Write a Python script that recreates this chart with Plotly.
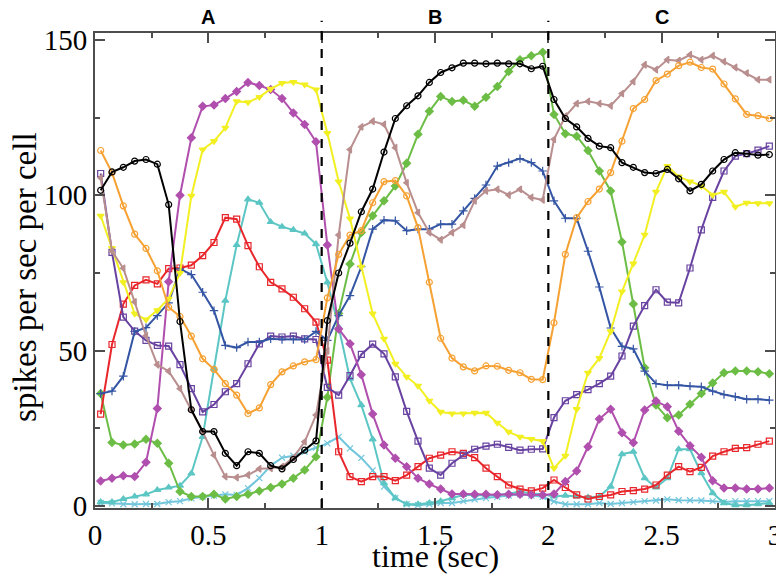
import plotly.graph_objects as go

# time bins (sec), 50 ms bins
time = [0.025, 0.075, 0.125, 0.175, 0.225, 0.275, 0.325, 0.375, 0.425, 0.475,
        0.525, 0.575, 0.625, 0.675, 0.725, 0.775, 0.825, 0.875, 0.925, 0.975,
        1.025, 1.075, 1.125, 1.175, 1.225, 1.275, 1.325, 1.375, 1.425, 1.475,
        1.525, 1.575, 1.625, 1.675, 1.725, 1.775, 1.825, 1.875, 1.925, 1.975,
        2.025, 2.075, 2.125, 2.175, 2.225, 2.275, 2.325, 2.375, 2.425, 2.475,
        2.525, 2.575, 2.625, 2.675, 2.725, 2.775, 2.825, 2.875, 2.925, 2.975]

black = [101.6, 107.5, 109, 111, 111.5, 110, 97, 59.4, 31, 24, 24, 17, 13, 17.5, 17, 13, 12, 15, 18, 21,
         59.7, 75, 84.6, 94.7, 102, 113.9, 124.7, 128.8, 132, 136.3, 139.5, 141, 142.5, 142.5, 142.3, 142.5, 142.3, 142.3, 140.7, 141.5,
         130.8, 124.7, 122, 118.3, 115.8, 115.3, 110.5, 109, 107.3, 107, 108.3, 105.3, 101.4, 103.5, 107.8, 111.5, 113.7, 113.4, 112.9, 113.1]
orange = [114.4, 107.3, 96.6, 87.5, 82.9, 75.7, 64, 61, 54.7, 47.4, 44, 39.4, 35.7, 29.8, 31.6, 39.1, 43.2, 45.1, 46.4, 47.1,
          67, 81, 87.2, 88.6, 97.6, 104.4, 104.7, 99.8, 89.6, 72, 54, 47.6, 44.8, 43.5, 45.1, 45, 43.7, 42.9, 40.8, 40.7,
          59, 81, 92.8, 98, 102, 107.3, 117.4, 127.9, 130.8, 136.9, 139, 141.7, 142.8, 141.1, 140.6, 135.8, 131, 126, 125.6, 124.7]
red = [29.6, 52, 65, 71, 72.8, 71.5, 76.4, 76.6, 77.5, 80.6, 84.8, 92.8, 92.3, 83.8, 77, 72, 69.9, 67.2, 63.5, 59.2,
       47, 17.5, 9.5, 7.9, 9.5, 9.5, 8.2, 10, 12.7, 15.4, 16.4, 17.5, 17, 15.6, 12.2, 9.5, 6.8, 5.5, 4.9, 5.8,
       8.4, 6, 3.6, 2.3, 3.1, 3.6, 4.7, 5, 5.5, 6.8, 10, 12.7, 11.1, 12.5, 16.1, 17.5, 18.6, 18.8, 19.9, 20.9]
brown = [105.6, 82, 76.5, 65.7, 54.8, 45.5, 43.4, 37.8, 30.9, 23.9, 16.4, 9.5, 9.2, 10, 12, 12.2, 12.7, 15.6, 20.7, 29.3,
         50, 87.2, 114.7, 122, 123.8, 122.8, 115.3, 104, 94.4, 88, 85.7, 88, 90.4, 98.2, 101.4, 101.9, 100.1, 101.9, 99.3, 98.5,
         118, 125.4, 129.5, 130.2, 129.5, 128.8, 132.7, 136.6, 142, 140.4, 143.6, 143.3, 145.2, 143.6, 144.9, 143, 141.1, 139.3, 137.2, 137.2]
yellow = [93.4, 83, 72, 61.9, 60, 63, 66.7, 75, 99.8, 114.7, 117.4, 121.7, 130.2, 129.9, 131.6, 134.2, 136.1, 136.4, 135.6, 134,
          120, 104.4, 92.5, 77, 61.9, 53.8, 45.8, 41.6, 38.7, 33.9, 30.3, 29.8, 29.8, 30, 30, 26.8, 23.9, 22.3, 21.6, 20.9,
          12.2, 16.2, 31.2, 42.9, 47.6, 56.2, 69, 78, 87.3, 101.1, 109.4, 106, 104.4, 103, 100.1, 101.1, 96.3, 97.6, 97.4, 97.4]
magenta = [8.1, 9, 9.8, 9.5, 14.1, 31.4, 72.2, 100, 118.5, 128.6, 129, 131.1, 133.4, 136.3, 135.3, 134, 131.1, 126.5, 122.8, 117.2,
           84, 57, 52.2, 42.3, 29.6, 19.7, 15.4, 12.7, 9, 7.1, 5.5, 3.9, 3.9, 3.8, 3.8, 3.7, 3.8, 3.8, 3.7, 3.6,
           3.9, 7.9, 11.3, 19.1, 28, 31.2, 23.6, 20.4, 30.9, 33.8, 32, 24.1, 19.4, 15.7, 8.2, 5.8, 5.8, 5.5, 5.5, 5.8]
blue = [36.2, 37, 41.8, 56.2, 57.4, 61.3, 65.4, 76.3, 74.5, 68.8, 62.9, 51.7, 51, 52.8, 52.8, 53.8, 53.6, 53.6, 53.6, 56.2,
        53.3, 61.3, 67.7, 77, 89.1, 92, 91.8, 88.6, 89.1, 89.1, 90.7, 90.7, 95, 99, 103.3, 109.4, 110.5, 111.8, 110.5, 107.8,
        98.2, 92.6, 92.6, 82, 70.5, 57.3, 51.4, 50.6, 43.4, 39.4, 38.9, 38.9, 38.6, 38.4, 37, 35.9, 35.2, 34.4, 34.4, 34.1]
violet = [107, 81.6, 60.8, 56.3, 53.3, 51.7, 51.5, 45.5, 37.8, 30.3, 32.7, 36.8, 39.4, 45.8, 52.2, 54.7, 54.4, 54.7, 53.8, 53.6,
          38.2, 35.7, 42, 48.8, 52.1, 49, 41.6, 30.5, 20.9, 12.2, 10, 13.8, 16.4, 18.3, 19.3, 19.9, 18.9, 18, 18.3, 18.4,
          28.5, 33.9, 35.9, 37.5, 39.4, 41.8, 48.3, 57.9, 64.5, 69.6, 65.6, 65.4, 76.6, 88.9, 99.3, 107.8, 112.6, 113.4, 114.5, 115.8]
green = [36.2, 20.5, 19.7, 20, 21.5, 20.2, 13.8, 4.7, 3.1, 3.1, 3.8, 2.3, 3.1, 3.8, 4.9, 6, 7.1, 9, 11.6, 15.9,
         35, 62, 77.9, 88, 93.4, 98.2, 103, 110.3, 119.6, 127, 131.8, 130.2, 130.6, 128.6, 131.5, 135, 139.8, 143.6, 144.9, 146,
         126, 119.8, 119, 114.4, 107.8, 101.4, 85, 65, 44.5, 32.5, 28.4, 29.3, 32.8, 36.2, 39.6, 42.9, 43.5, 43.5, 43.2, 42.6]
turquoise = [1.3, 1.3, 2.3, 3.1, 3.8, 5.2, 6, 6.6, 10.5, 22.3, 44.2, 66.1, 84, 98.7, 97.6, 91.4, 89.9, 88.9, 87.7, 84.3,
             72, 57.6, 41, 32.5, 21.5, 7.4, 2.6, 0.6, 0.6, 1, 1.6, 2.6, 3.6, 3.6, 3.4, 3.6, 4, 4.7, 4.1, 3.8,
             3.1, 3.4, 3.1, 2.8, 3.1, 6.3, 16.7, 17.5, 9, 6, 9, 18.3, 18.3, 10.6, 4.2, 1, 0.3, 0.3, 0.6, 1]
skyblue = [1, 0.9, 0.6, 0.6, 0.7, 0.7, 1.3, 1.6, 2.5, 3, 3.4, 3.8, 3.6, 5.8, 9, 13, 15.6, 16.2, 17.5, 18.8,
           20.2, 22.3, 18.6, 15.5, 11.5, 6.3, 2.6, 0.6, 0.3, 0.6, 1, 1, 1.6, 2.2, 2.6, 3, 3.4, 3.8, 3.4, 3,
           1.5, 0.6, 0.6, 0.6, 1, 0.7, 1, 1.3, 1.6, 1.8, 2.2, 1.9, 1.9, 1.8, 1.6, 1.3, 1.6, 1.6, 1.6, 1.6]

epochs = ["A", "B", "C"]
epoch_mid = [0.5, 1.5, 2.5]
boundaries = [1, 2]

series = [
    (skyblue, "#72c6dc", "x-thin-open"),
    (turquoise, "#5cc6c4", "triangle-up"),
    (green, "#6cbd45", "diamond"),
    (red, "#e8262b", "square-open"),
    (violet, "#6842a0", "square-open"),
    (blue, "#3455a4", "cross-thin-open"),
    (magenta, "#b04fae", "diamond"),
    (yellow, "#f2ef22", "triangle-down"),
    (brown, "#b98e8e", "triangle-left"),
    (orange, "#f6a133", "circle-open"),
    (black, "#000000", "circle-open"),
]

fig = go.Figure()
for vals, col, sym in series:
    fig.add_trace(go.Scatter(x=time, y=vals, mode="lines+markers",
                             line=dict(color=col, width=2),
                             marker=dict(symbol=sym, size=6, color=col,
                                         line=dict(color=col, width=1.2)),
                             showlegend=False))

for b in boundaries:
    fig.add_shape(type="line", x0=b, x1=b, xref="x", y0=0, y1=1.026, yref="paper",
                  line=dict(color="black", width=2.2, dash="dash"))

for lab, xm in zip(epochs, epoch_mid):
    fig.add_annotation(x=xm, y=1.033, xref="x", yref="paper", text="<b>" + lab + "</b>",
                       showarrow=False, font=dict(family="Liberation Sans", size=20, color="black"),
                       yanchor="middle")

# axis titles placed as annotations for exact positioning
fig.add_annotation(x=0.5, y=-0.101, xref="paper", yref="paper", text="time (sec)",
                   showarrow=False, yanchor="middle",
                   font=dict(family="Liberation Serif", size=32, color="black"))
fig.add_annotation(x=-0.104, y=0.487, xref="paper", yref="paper", text="spikes per sec per cell",
                   showarrow=False, textangle=-90, xanchor="center", yanchor="middle",
                   font=dict(family="Liberation Serif", size=33, color="black"))

axis_common = dict(showline=True, mirror="allticks", linecolor="#4d4d4d", linewidth=2,
                   ticks="inside", ticklen=10, tickwidth=1.5, tickcolor="#4d4d4d",
                   showgrid=False, zeroline=False, automargin=False,
                   tickfont=dict(family="Liberation Serif", size=29, color="black"))

fig.update_xaxes(range=[0, 3], tickvals=[0, 0.5, 1, 1.5, 2, 2.5, 3],
                 ticktext=["0", "0.5", "1", "1.5", "2", "2.5", "3"],
                 minor=dict(dtick=0.25, ticks="inside", ticklen=5, tickcolor="#4d4d4d", tickwidth=1.5),
                 **axis_common)
fig.update_yaxes(range=[-0.6, 152.2], tickvals=[0, 50, 100, 150],
                 minor=dict(dtick=25, ticks="inside", ticklen=5, tickcolor="#4d4d4d", tickwidth=1.5),
                 **axis_common)

# page body adds an 8 px offset, so the figure is sized to compensate
fig.update_layout(width=776, height=567, plot_bgcolor="white", paper_bgcolor="white",
                  margin=dict(l=87, r=9, t=25, b=67))

fig.write_html("out.html")
